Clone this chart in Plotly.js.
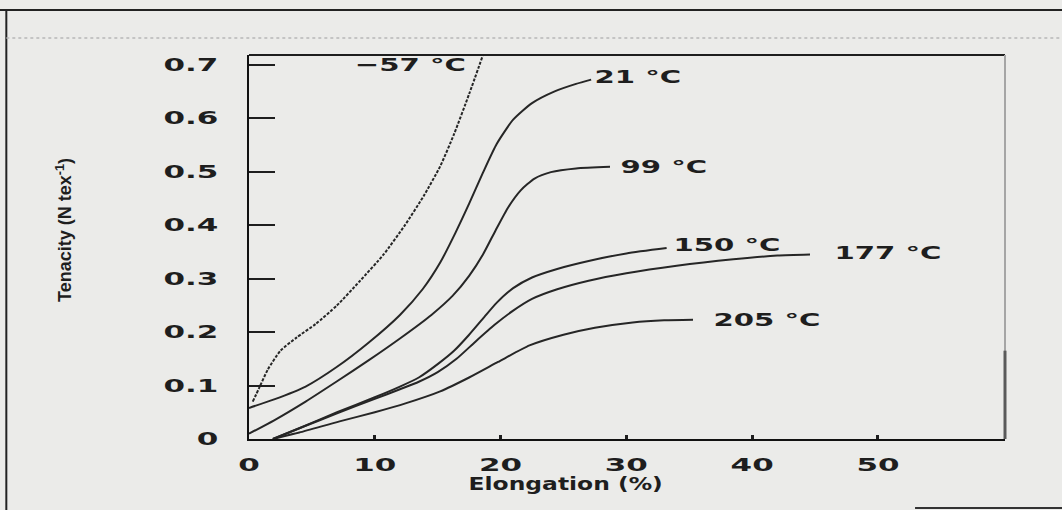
<!DOCTYPE html>
<html>
<head>
<meta charset="utf-8">
<script src="https://cdn.plot.ly/plotly-3.0.1.min.js"></script>
<style>
html,body{margin:0;padding:0;background:#ebebe9;}
#chart{width:1062px;height:510px;}
</style>
</head>
<body>
<div id="chart"></div>
<script>
// Elongation (%) and tenacity (N tex^-1)
const seriesNames = ["\u221257 \u00b0C", "21 \u00b0C", "99 \u00b0C", "150 \u00b0C", "177 \u00b0C", "205 \u00b0C"];

const xM57 = [0.3, 0.8, 1.5, 2.5, 3.8, 5.3, 7, 8.8, 10.7, 12.4, 13.9, 15.2, 16.3, 17.5, 18.6];
const yM57 = [0.07, 0.095, 0.13, 0.165, 0.19, 0.215, 0.25, 0.295, 0.345, 0.40, 0.455, 0.51, 0.57, 0.645, 0.718];

const x21 = [0, 2, 4.5, 7, 9.5, 12, 13.8, 15.2, 16.4, 17.5, 18.6, 19.7, 21, 22.5, 24.3, 26, 27.2];
const y21 = [0.058, 0.074, 0.098, 0.135, 0.18, 0.232, 0.28, 0.33, 0.385, 0.44, 0.498, 0.552, 0.597, 0.628, 0.65, 0.664, 0.672];

const x99 = [0, 2, 4.5, 7, 9.5, 12, 14.5, 16.2, 17.5, 18.6, 19.6, 20.6, 21.6, 22.7, 24, 26, 28.7];
const y99 = [0.01, 0.035, 0.07, 0.108, 0.147, 0.188, 0.232, 0.268, 0.305, 0.345, 0.39, 0.433, 0.465, 0.487, 0.499, 0.506, 0.509];

const x150 = [1.9, 4, 7, 10, 12, 13.5, 15, 16.3, 17.5, 18.7, 19.7, 21, 22.5, 24.5, 27, 30, 33.2];
const y150 = [0.0, 0.02, 0.05, 0.078, 0.098, 0.115, 0.14, 0.165, 0.195, 0.228, 0.255, 0.282, 0.302, 0.318, 0.333, 0.347, 0.357];

const x177 = [1.9, 4, 7, 10, 12, 13.5, 15, 16.5, 18, 19.5, 21, 22.5, 24.5, 27, 30, 34, 38.5, 42, 44.6];
const y177 = [0.0, 0.02, 0.048, 0.075, 0.093, 0.107, 0.125, 0.15, 0.182, 0.213, 0.24, 0.262, 0.28, 0.296, 0.31, 0.324, 0.336, 0.343, 0.345];

const x205 = [1.9, 4, 7.2, 10, 12.5, 15.2, 17.5, 19.8, 22.3, 25, 27.5, 30.5, 33, 35.3];
const y205 = [0.0, 0.012, 0.033, 0.05, 0.067, 0.089, 0.115, 0.144, 0.175, 0.195, 0.208, 0.218, 0.222, 0.223];

// label centre positions (data units)
const labelX = [12.8, 30.9, 33.0, 38.0, 50.8, 41.2];
const labelY = [0.700, 0.677, 0.509, 0.363, 0.348, 0.224];

const xTicks = [0, 10, 20, 30, 40, 50];
const yTicks = [0, 0.1, 0.2, 0.3, 0.4, 0.5, 0.6, 0.7];
const yTickText = ["0", "0.1", "0.2", "0.3", "0.4", "0.5", "0.6", "0.7"];

const xs = [xM57, x21, x99, x150, x177, x205];
const ys = [yM57, y21, y99, y150, y177, y205];
const ink = "#1e1e1e";

const traces = xs.map((xv, i) => ({
  type: "scatter", mode: "lines", name: seriesNames[i],
  x: xv, y: ys[i],
  line: {color: "#262626", width: 2, shape: "spline", smoothing: 0.6, dash: i === 0 ? "3px,1.5px" : "solid"},
  hoverinfo: "skip", showlegend: false, cliponaxis: true
}));

const sans = "DejaVu Sans, Liberation Sans, sans-serif";
const tickFont = {family: sans, size: 18, color: ink, weight: "bold"};

const annotations = seriesNames.map((t, i) => ({
  x: labelX[i], y: labelY[i], xref: "x", yref: "y", text: t,
  showarrow: false, xanchor: "center", yanchor: "middle",
  font: {family: sans, size: 18, color: ink, weight: "bold"}
}));
annotations.push({
  x: 0.418, y: -0.115, xref: "paper", yref: "paper", text: "Elongation (%)",
  showarrow: false, xanchor: "center", yanchor: "middle",
  font: {family: sans, size: 18, color: ink, weight: "bold"}
});
annotations.push({
  x: -0.245, y: 0.544, xref: "paper", yref: "paper", text: "Tenacity (N tex<sup>-1</sup>)",
  showarrow: false, textangle: -90, xanchor: "center", yanchor: "middle",
  font: {family: "Liberation Sans Narrow, Liberation Sans, sans-serif", size: 18, color: ink, weight: "bold"}
});

const shapes = [
  {type: "line", xref: "paper", yref: "paper", x0: 0, x1: 1, y0: 1, y1: 1, line: {color: "#1e1e1e", width: 2}},
  {type: "line", xref: "paper", yref: "paper", x0: 1, x1: 1, y0: 0, y1: 1, line: {color: "#a5a5a5", width: 2}},
  {type: "line", xref: "paper", yref: "paper", x0: 1, x1: 1, y0: 0, y1: 0.23, line: {color: "#5a5a5a", width: 3}},
  {type: "line", xref: "paper", yref: "paper", x0: -0.33, x1: 1.08, y0: 1.117, y1: 1.117, line: {color: "#222", width: 2}},
  {type: "line", xref: "paper", yref: "paper", x0: -0.321, x1: -0.321, y0: 1.117, y1: -0.19, line: {color: "#222", width: 2}},
  {type: "line", xref: "paper", yref: "paper", x0: -0.321, x1: 1.08, y0: 1.044, y1: 1.044, line: {color: "#b8b8b8", width: 1.5, dash: "dot"}},
  {type: "line", xref: "paper", yref: "paper", x0: 0.881, x1: 1.08, y0: -0.18, y1: -0.18, line: {color: "#333", width: 2}}
];

const layout = {
  width: 1062, height: 510,
  margin: {l: 249, r: 57, t: 55, b: 71, pad: 0},
  paper_bgcolor: "#ebebe9", plot_bgcolor: "#ebebe9",
  showlegend: false,
  xaxis: {
    range: [0, 60.1], tickvals: xTicks, ticktext: xTicks.map(String),
    ticks: "inside", ticklen: 4, tickwidth: 3, tickcolor: ink,
    showline: true, linecolor: "#111", linewidth: 2,
    showgrid: false, zeroline: false, tickfont: tickFont, ticklabelstandoff: 8,
    fixedrange: true
  },
  yaxis: {
    range: [0, 0.718], tickvals: yTicks, ticktext: yTickText,
    ticks: "inside", ticklen: 26, tickwidth: 2, tickcolor: ink,
    showline: true, linecolor: "#111", linewidth: 2,
    showgrid: false, zeroline: false, tickfont: tickFont, ticklabelstandoff: 25,
    fixedrange: true
  },
  annotations: annotations,
  shapes: shapes
};

// the scanned figure is horizontally stretched: widen glyphs to match
function stretch(nodes, f) {
  nodes.forEach(t => {
    const w = t.getComputedTextLength();
    if (w > 0) {
      t.setAttribute("textLength", (w * f).toFixed(1));
      t.setAttribute("lengthAdjust", "spacingAndGlyphs");
    }
  });
}

Plotly.newPlot("chart", traces, layout, {staticPlot: true, displayModeBar: false}).then(gd => {
  stretch(gd.querySelectorAll(".xtick text, .ytick text"), 1.72);
  for (let i = 0; i < seriesNames.length; i++) {
    stretch(gd.querySelectorAll('.annotation[data-index="' + i + '"] .annotation-text'), 1.62);
  }
  stretch(gd.querySelectorAll('.annotation[data-index="6"] .annotation-text'), 1.3);
});
</script>
</body>
</html>
